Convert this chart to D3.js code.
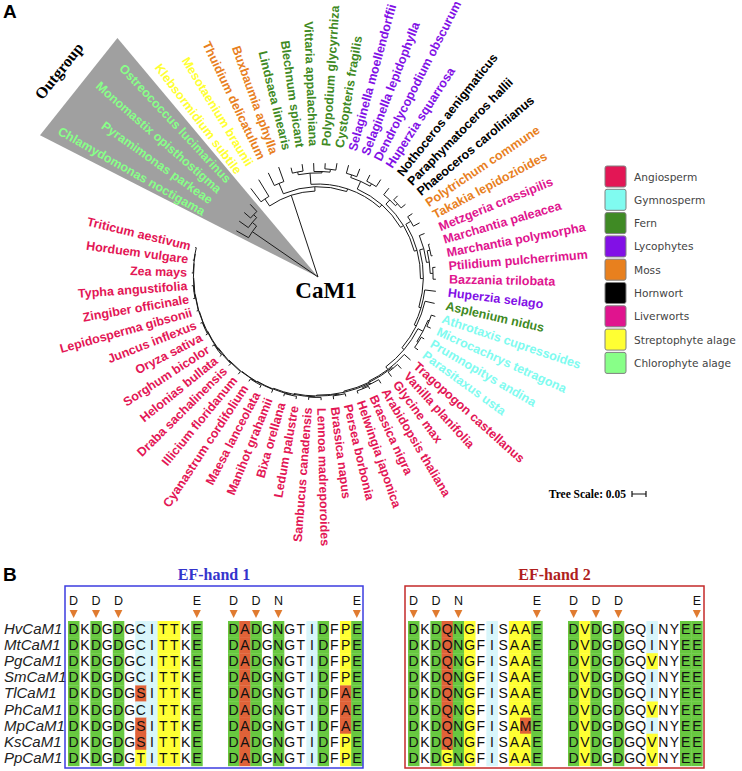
<!DOCTYPE html>
<html><head><meta charset="utf-8">
<script src="https://cdn.jsdelivr.net/npm/d3@7"></script>
<style>body{margin:0;background:#fff}</style>
</head><body>
<svg id="chart" width="742" height="771"></svg>
<script>
// ---------------- DATA ----------------
const leafNames = [
"Chlamydomonas noctigama","Pyramimonas parkeae","Monomastix opisthostigma","Ostreococcus lucimarinus",
"Klebsormidium subtile","Mesotaenium braunii",
"Thuidium delicatulum","Buxbaumia aphylla",
"Lindsaea linearis","Blechnum spicant","Vittaria appalachiana","Polypodium glycyrrhiza","Cystopteris fragilis",
"Selaginella moellendorffii","Selaginella lepidophylla","Dendrolycopodium obscurum","Huperzia squarrosa",
"Nothoceros aenigmaticus","Paraphymatoceros hallii","Phaeoceros carolinianus",
"Polytrichum commune","Takakia lepidozioides",
"Metzgeria crassipilis","Marchantia paleacea","Marchantia polymorpha","Ptilidium pulcherrimum","Bazzania trilobata",
"Huperzia selago","Asplenium nidus",
"Athrotaxis cupressoides","Microcachrys tetragona","Prumnopitys andina","Parasitaxus usta",
"Tragopogon castellanus","Vanilla planifolia","Glycine max","Arabidopsis thaliana","Brassica nigra","Helwingia japonica",
"Persea borbonia","Brassica napus","Lennoa madreporoides","Sambucus canadensis","Ledum palustre","Bixa orellana",
"Manihot grahamii","Maesa lanceolata","Cyanastrum cordifolium","Illicium floridanum","Draba sachalinensis",
"Helonias bullata","Sorghum bicolor","Oryza sativa","Juncus inflexus","Lepidosperma gibsonii","Zingiber officinale",
"Typha angustifolia","Zea mays","Horduem vulgare","Triticum aestivum"];

// consecutive runs of leaves belonging to each group (in leaf order)
const leafGroupRuns = [
  ["Chlorophyte alage",4],["Streptophyte alage",2],["Moss",2],["Fern",5],["Lycophytes",4],
  ["Hornwort",3],["Moss",2],["Liverworts",5],["Lycophytes",1],["Fern",1],["Gymnosperm",4],["Angiosperm",27]];

const groupNames  = ["Angiosperm","Gymnosperm","Fern","Lycophytes","Moss","Hornwort","Liverworts","Streptophyte alage","Chlorophyte alage"];
const groupColors = ["#e31655","#80fbf0","#3f8a24","#8210e6","#e8801e","#000000","#e0148e","#ffff33","#88ff88"];

// tree (Newick pieces, branch lengths in substitutions/site)
const outgroupNwk = "(Chlamydomonas_noctigama:0.05,(Pyramimonas_parkeae:0.04,(Monomastix_opisthostigma:0.03,Ostreococcus_lucimarinus:0.035):0.015):0.02):0.285";
const fernNwk  = "((Lindsaea_linearis:0.02,Blechnum_spicant:0.025):0.01,(Vittaria_appalachiana:0.03,(Polypodium_glycyrrhiza:0.02,Cystopteris_fragilis:0.025):0.01):0.005)";
const lycoNwk  = "((Selaginella_moellendorffii:0.03,Selaginella_lepidophylla:0.03):0.01,(Dendrolycopodium_obscurum:0.025,Huperzia_squarrosa:0.03):0.01)";
const hornNwk  = "(Nothoceros_aenigmaticus:0.03,(Paraphymatoceros_hallii:0.02,Phaeoceros_carolinianus:0.02):0.01)";
const mossNwk  = "(Polytrichum_commune:0.02,Takakia_lepidozioides:0.025)";
const liverNwk = "(Metzgeria_crassipilis:0.02,((Marchantia_paleacea:0.005,Marchantia_polymorpha:0.005):0.01,(Ptilidium_pulcherrimum:0.01,Bazzania_trilobata:0.01):0.01):0.01)";
const gymnoNwk = "((Athrotaxis_cupressoides:0.015,Microcachrys_tetragona:0.015):0.005,(Prumnopitys_andina:0.012,Parasitaxus_usta:0.015):0.005)";
const angioNwk = "(Tragopogon_castellanus:0.03,((Vanilla_planifolia:0.02,Glycine_max:0.02):0.004,((Arabidopsis_thaliana:0.015,(Brassica_nigra:0.01,Helwingia_japonica:0.01):0.004):0.004,((Persea_borbonia:0.01,Brassica_napus:0.012):0.003,((Lennoa_madreporoides:0.01,Sambucus_canadensis:0.01):0.002,((Ledum_palustre:0.01,Bixa_orellana:0.01):0.002,(Manihot_grahamii:0.012,((Maesa_lanceolata:0.01,Cyanastrum_cordifolium:0.01):0.002,(Illicium_floridanum:0.012,(Draba_sachalinensis:0.01,((Helonias_bullata:0.008,Sorghum_bicolor:0.008):0.002,((Oryza_sativa:0.007,Juncus_inflexus:0.007):0.001,(Lepidosperma_gibsonii:0.006,((Zingiber_officinale:0.006,Typha_angustifolia:0.006):0.001,(Zea_mays:0.005,(Horduem_vulgare:0.004,Triticum_aestivum:0.004):0.001):0.001):0.001):0.001):0.002):0.002):0.002):0.002):0.002):0.002):0.003):0.003):0.003):0.004):0.004):0.012";
const ingroupNwk = `((Klebsormidium_subtile:0.06,Mesotaenium_braunii:0.07):0.03,((Thuidium_delicatulum:0.05,Buxbaumia_aphylla:0.055):0.04,(${fernNwk}:0.04,(${lycoNwk}:0.03,(${hornNwk}:0.02,(${mossNwk}:0.02,(${liverNwk}:0.015,(Huperzia_selago:0.04,(Asplenium_nidus:0.035,(${gymnoNwk}:0.02,${angioNwk}):0.01):0.008):0.008):0.01):0.01):0.012):0.012):0.01):0.015):0.307`;
const treeNwk = `(${outgroupNwk},${ingroupNwk});`;
const treeScaleValue = 0.05;

// alignment
const seqNames = ["HvCaM1","MtCaM1","PgCaM1","SmCaM1","TlCaM1","PhCaM1","MpCaM1","KsCaM1","PpCaM1"];
const ef1LoopA = ["DKDGDGCITTKE","DKDGDGCITTKE","DKDGDGCITTKE","DKDGDGCITTKE","DKDGDGSITTKE","DKDGDGCITTKE","DKDGDGSITTKE","DKDGDGSITTKE","DKDGDGTITTKE"];
const ef1LoopB = ["DADGNGTIDFPE","DADGNGTIDFPE","DADGNGTIDFPE","DADGNGTIDFPE","DADGNGTIDFAE","DADGNGTIDFAE","DADGNGTIDFAE","DADGNGTIDFPE","DADGNGTIDFPE"];
const ef2LoopA = ["DKDQNGFISAAE","DKDQNGFISAAE","DKDQNGFISAAE","DKDQNGFISAAE","DKDQNGFISAAE","DKDQNGFISAAE","DKDQNGFISAME","DKDQNGFISAAE","DKDGNGFISAAE"];
const ef2LoopB = ["DVDGDGQINYEE","DVDGDGQINYEE","DVDGDGQVNYEE","DVDGDGQINYEE","DVDGDGQINYEE","DVDGDGQVNYEE","DVDGDGQINYEE","DVDGDGQVNYEE","DVDGDGQVNYEE"];
const shadeBase = ["g.g.g.ccyy.g","gog.g..cg.yg","g.gogy.c.yyg","gyg.g..c..gg"];
const shadeOverride = [{6:{S:"o",T:"y"}},{10:{A:"o"}},{3:{G:"y"},10:{M:"o"}},{7:{V:"y"}}];
const headerMarks = ["D.D.D......E","D.D.N......E","D.D.N......E","D.D.D......E"];
const boxTitles = ["EF-hand 1","EF-hand 2"];

// ---------------- DRAW ----------------
const svg = d3.select("#chart");
const cx = 318, cy = 277;
const rScale = d3.scaleLinear().domain([0, treeScaleValue]).range([0, 14]);
const angleDeg = d3.scaleLinear().domain([0, leafNames.length - 1]).range([299.5, 643.5]);
const rad = d => d * Math.PI / 180;
const leafGroup = leafGroupRuns.flatMap(([g, n]) => d3.range(n).map(() => g));
const colorOf = d3.scaleOrdinal().domain(groupNames).range(groupColors);

// Newick parser
function parseNewick(s) {
  let i = 0;
  function node() {
    const n = {};
    if (s[i] === "(") {
      i++; n.children = [node()];
      while (s[i] === ",") { i++; n.children.push(node()); }
      i++;
    }
    let name = "";
    while (i < s.length && !",():;".includes(s[i])) name += s[i++];
    n.name = name.replace(/_/g, " ");
    n.length = 0;
    if (s[i] === ":") {
      i++; let num = "";
      while (i < s.length && !",();".includes(s[i])) num += s[i++];
      n.length = +num;
    }
    return n;
  }
  return node();
}
const root = d3.hierarchy(parseNewick(treeNwk));
root.eachBefore(n => { n.dist = n.parent ? n.parent.dist + n.data.length : 0; });
const leafIndex = new Map(leafNames.map((n, i) => [n, i]));
root.eachAfter(n => {
  if (!n.children) n.ang = angleDeg(leafIndex.get(n.data.name));
  else n.ang = (n.children[0].ang + n.children[n.children.length - 1].ang) / 2;
});

const gA = svg.append("g").attr("transform", `translate(${cx},${cy})`);

// outgroup wedge
const ogAngles = [angleDeg(0) - 2.5, angleDeg(3) + 3.0];
const wedgeR = 312;
const wp = d3.path();
wp.moveTo(0, 0);
const w1 = d3.pointRadial(rad(ogAngles[0]), wedgeR), w2 = d3.pointRadial(rad(ogAngles[1]), wedgeR);
wp.lineTo(w1[0], w1[1]); wp.lineTo(w2[0], w2[1]); wp.closePath();
gA.append("path").attr("d", wp.toString()).attr("fill", "#a0a0a0");

// branches
const branchPath = d3.path();
root.each(n => {
  if (n.parent) {
    const p0 = d3.pointRadial(rad(n.ang), rScale(n.parent.dist));
    const p1 = d3.pointRadial(rad(n.ang), rScale(n.dist));
    branchPath.moveTo(p0[0], p0[1]); branchPath.lineTo(p1[0], p1[1]);
  }
  if (n.children && n.parent) {
    const r = rScale(n.dist);
    const a0 = rad(n.children[0].ang) - Math.PI / 2, a1 = rad(n.children[n.children.length - 1].ang) - Math.PI / 2;
    const s = d3.pointRadial(a0 + Math.PI / 2, r);
    branchPath.moveTo(s[0], s[1]);
    branchPath.arc(0, 0, r, a0, a1, false);
  }
});
gA.append("path").attr("d", branchPath.toString()).attr("fill", "none").attr("stroke", "#1a1a1a").attr("stroke-width", 1);

// leaf labels (aligned)
const R_LABEL = 131;
gA.selectAll("text.leaf").data(leafNames).join("text")
  .attr("class", "leaf")
  .each(function (name, i) {
    const a = angleDeg(i), norm = ((a % 360) + 360) % 360;
    const [x, y] = d3.pointRadial(rad(a), R_LABEL);
    const left = norm > 180;
    d3.select(this)
      .attr("transform", `translate(${x},${y}) rotate(${left ? norm + 90 - 360 : norm - 90})`)
      .attr("text-anchor", left ? "end" : "start");
  })
  .attr("dominant-baseline", "central")
  .attr("font-family", "'Liberation Sans', Arial, sans-serif")
  .attr("font-weight", "bold").attr("font-size", 12.5)
  .attr("fill", (d, i) => colorOf(leafGroup[i]))
  .text(d => d);

// Outgroup label
const ogMid = (ogAngles[0] + ogAngles[1]) / 2;
const ogPos = d3.pointRadial(rad(ogMid), 331);
gA.append("text").attr("transform", `translate(${ogPos[0]},${ogPos[1]}) rotate(${ogMid - 360})`)
  .attr("text-anchor", "middle").attr("dominant-baseline", "central")
  .attr("font-family", "'Liberation Serif', 'Times New Roman', serif").attr("font-weight", "bold").attr("font-size", 16)
  .text("Outgroup");

// center label
svg.append("text").attr("x", 326).attr("y", 298).attr("text-anchor", "middle")
  .attr("font-family", "'Liberation Serif', 'Times New Roman', serif").attr("font-weight", "bold").attr("font-size", 23)
  .text("CaM1");

// panel letters
svg.append("text").attr("x", 3).attr("y", 18).attr("font-family", "'Liberation Sans', Arial, sans-serif")
  .attr("font-weight", "bold").attr("font-size", 19).text("A");
svg.append("text").attr("x", 3).attr("y", 581).attr("font-family", "'Liberation Sans', Arial, sans-serif")
  .attr("font-weight", "bold").attr("font-size", 19).text("B");

// legend
const legY = d3.scaleBand().domain(groupNames).range([166, 166 + 23.3 * groupNames.length]);
const leg = svg.append("g");
leg.selectAll("rect").data(groupNames).join("rect")
  .attr("x", 605).attr("y", d => legY(d)).attr("width", 21).attr("height", 21).attr("rx", 2)
  .attr("fill", d => colorOf(d)).attr("stroke", "#808080").attr("stroke-width", 1);
leg.selectAll("text").data(groupNames).join("text")
  .attr("x", 634).attr("y", d => legY(d) + 14.5)
  .attr("font-family", "'DejaVu Sans', Verdana, sans-serif").attr("font-size", 10.6).attr("fill", "#444")
  .text(d => d);

// tree scale
svg.append("text").attr("x", 626).attr("y", 498).attr("text-anchor", "end")
  .attr("font-family", "'Liberation Serif', 'Times New Roman', serif").attr("font-weight", "bold").attr("font-size", 11.5)
  .text("Tree Scale: " + treeScaleValue);
const sbX = 632, sbY = 494, sbL = rScale(treeScaleValue);
svg.append("path").attr("d", `M${sbX},${sbY}H${sbX + sbL}M${sbX},${sbY - 3}V${sbY + 3}M${sbX + sbL},${sbY - 3}V${sbY + 3}`)
  .attr("stroke", "#111").attr("stroke-width", 1.2).attr("fill", "none");

// ---------------- PANEL B ----------------
const loops = [ef1LoopA, ef1LoopB, ef2LoopA, ef2LoopB];
const groupStarts = [68, 228, 408, 568];
const colW = 11.2;
const rowY = d3.scaleBand().domain(seqNames).range([621, 621 + 16.1 * seqNames.length]);
const shadeColor = { g: "#68c840", o: "#e06238", y: "#ffff33", c: "#d8f6fb" };
const gB = svg.append("g");

loops.forEach((loop, gi) => {
  const colX = d3.scaleBand().domain(d3.range(12)).range([groupStarts[gi], groupStarts[gi] + 12 * colW]);
  seqNames.forEach((nm, ri) => {
    const seq = loop[ri];
    seq.split("").forEach((res, ci) => {
      let code = shadeBase[gi][ci];
      const ov = shadeOverride[gi][ci];
      if (ov && ov[res]) code = ov[res];
      if (code !== ".") {
        gB.append("rect").attr("x", colX(ci)).attr("y", rowY(nm)).attr("width", colW + 0.3).attr("height", rowY.bandwidth() + 0.3)
          .attr("fill", shadeColor[code]);
      }
    });
  });
  seqNames.forEach((nm, ri) => {
    loop[ri].split("").forEach((res, ci) => {
      gB.append("text").attr("x", colX(ci) + colW / 2).attr("y", rowY(nm) + rowY.bandwidth() / 2 + 5)
        .attr("text-anchor", "middle").attr("font-family", "'Liberation Sans', Arial, sans-serif")
        .attr("font-size", 14).attr("fill", "#111").text(res);
    });
  });
  headerMarks[gi].split("").forEach((m, ci) => {
    if (m === ".") return;
    const x = colX(ci) + colW / 2;
    gB.append("text").attr("x", x).attr("y", 605).attr("text-anchor", "middle")
      .attr("font-family", "'Liberation Sans', Arial, sans-serif").attr("font-size", 12.5).attr("fill", "#111").text(m);
    gB.append("path").attr("d", `M${x - 4},610L${x + 4},610L${x},618Z`).attr("fill", "#e07b30");
  });
});

// names
gB.selectAll("text.nm").data(seqNames).join("text").attr("class", "nm")
  .attr("x", 4).attr("y", d => rowY(d) + rowY.bandwidth() / 2 + 5)
  .attr("font-family", "'Liberation Sans', Arial, sans-serif").attr("font-style", "italic").attr("font-size", 15)
  .attr("fill", "#222").text(d => d);

// boxes + titles
const boxes = [{ x: 65, w: 298, stroke: "#3c3ce0", tc: "#3434cc" }, { x: 405, w: 299, stroke: "#c42a2a", tc: "#b01e1e" }];
boxes.forEach((b, i) => {
  gB.append("rect").attr("x", b.x).attr("y", 586).attr("width", b.w).attr("height", 182)
    .attr("fill", "none").attr("stroke", b.stroke).attr("stroke-width", 1.5);
  gB.append("text").attr("x", b.x + b.w / 2).attr("y", 580).attr("text-anchor", "middle")
    .attr("font-family", "'Liberation Serif', 'Times New Roman', serif").attr("font-weight", "bold").attr("font-size", 16)
    .attr("fill", b.tc).text(boxTitles[i]);
});
</script>
</body></html>
